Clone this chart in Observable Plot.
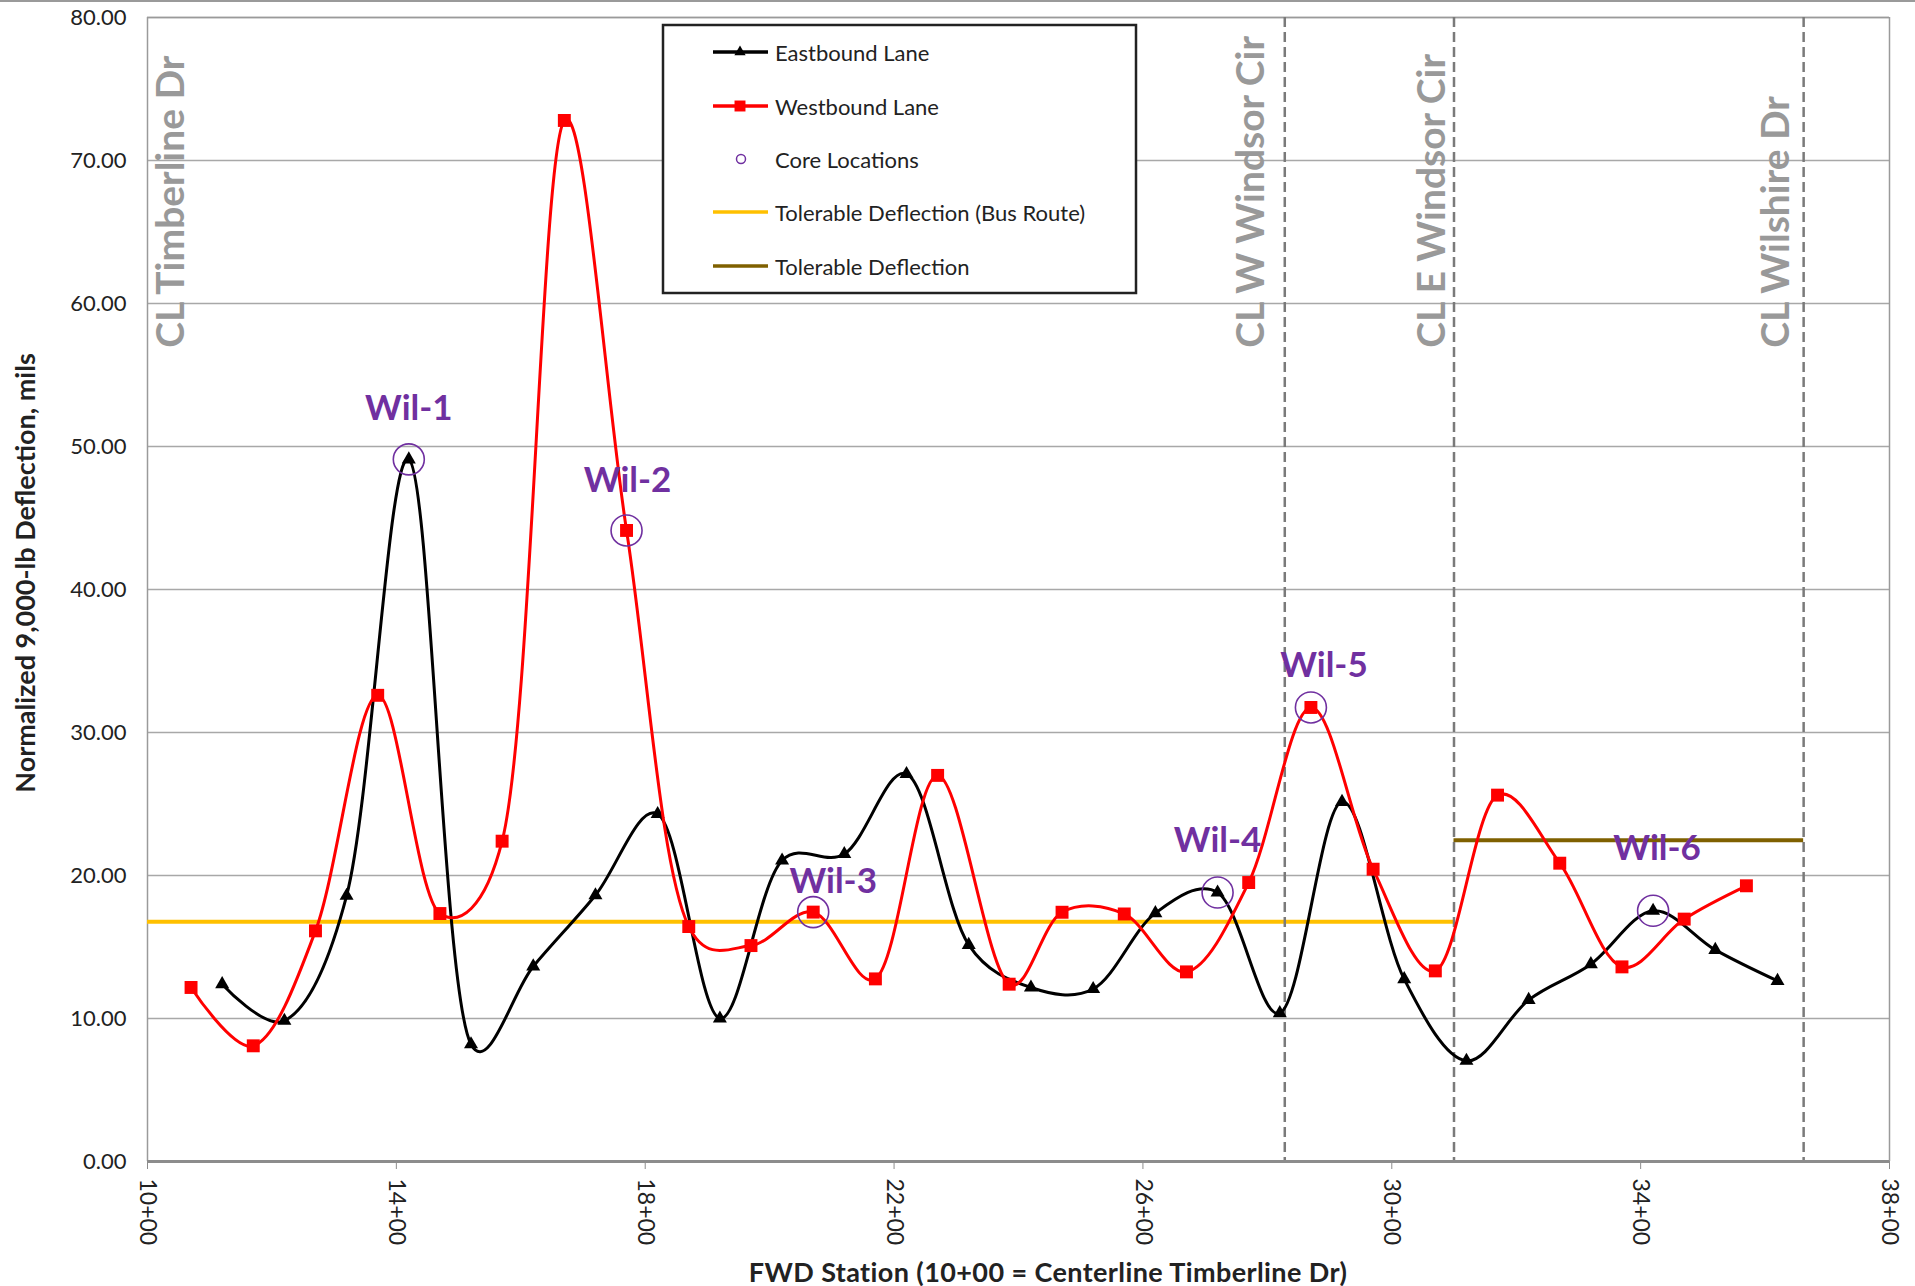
<!DOCTYPE html>
<html><head><meta charset="utf-8">
<script src="https://cdn.jsdelivr.net/npm/d3@7"></script>
<script src="https://cdn.jsdelivr.net/npm/@observablehq/plot@0.6"></script>
<style>
body{margin:0;background:#fff;}
#chart{position:relative;width:1915px;height:1286px;overflow:hidden;}
</style></head><body><div id="chart"></div>
<script>
// ---- Data ----
const eastStations = [11.2,12.2,13.2,14.2,15.2,16.2,17.2,18.2,19.2,20.2,21.2,22.2,23.2,24.2,25.2,26.2,27.2,28.2,29.2,30.2,31.2,32.2,33.2,34.2,35.2,36.2];
const eastValues   = [12.4,9.84,18.58,49.1,8.2,13.64,18.62,24.3,10.0,21.05,21.5,27.1,15.15,12.17,12.06,17.37,18.81,10.37,25.15,12.75,7.04,11.3,13.8,17.53,14.8,12.63];
const westStations = [10.7,11.7,12.7,13.7,14.7,15.7,16.7,17.7,18.7,19.7,20.7,21.7,22.7,23.85,24.7,25.7,26.7,27.7,28.7,29.7,30.7,31.7,32.7,33.7,34.7,35.7];
const westValues   = [12.17,8.09,16.13,32.6,17.34,22.4,72.8,44.13,16.43,15.1,17.44,12.77,27.0,12.4,17.43,17.31,13.26,19.51,31.75,20.44,13.33,25.62,20.86,13.61,16.95,19.28];
const coreIds      = ["Wil-1","Wil-2","Wil-3","Wil-4","Wil-5","Wil-6"];
const coreStations = [14.2,17.7,20.7,27.2,28.7,34.2];
const coreValues   = [49.1,44.13,17.44,18.81,31.75,17.53];
const streetNames    = ["CL Timberline Dr","CL W Windsor Cir","CL E Windsor Cir","CL Wilshire Dr"];
const streetStations = [10,28.28,31.0,36.62];
const busRouteLimit = 16.76, busRouteFrom = 10, busRouteTo = 31.0;
const tolerableLimit = 22.47, tolerableFrom = 31.0, tolerableTo = 36.62;
const xTicks = [10,14,18,22,26,30,34,38];
const yTicks = [0,10,20,30,40,50,60,70,80];
const legendLabels = ["Eastbound Lane","Westbound Lane","Core Locations","Tolerable Deflection (Bus Route)","Tolerable Deflection"];

// ---- Layout / style ----
const FONT = "Lato, 'Open Sans', 'DejaVu Sans', sans-serif";
const PURPLE = "#7030A0", RED = "#FF0000", GOLD = "#FFC000", BROWN = "#7F6000";
const coreLabelDx = [0,1,20,0,13,4];
const coreLabelDy = [-51,-50,-30,-52,-42,-62];
const streetLabelDx = [36,-21,-9,-15];
const streetLabelY = 56.9;
const smooth = d3.curveCatmullRom.alpha(0.25);

const east = eastStations.map((x,i)=>({x, y:eastValues[i]}));
const west = westStations.map((x,i)=>({x, y:westValues[i]}));
const cores = coreIds.map((id,i)=>({id, x:coreStations[i], y:coreValues[i]}));
const streets = streetNames.map((name,i)=>({name, x:streetStations[i]}));

const chart = Plot.plot({
  width:1915, height:1286,
  marginLeft:147, marginRight:26, marginTop:17, marginBottom:125,
  style:{fontFamily:FONT, background:"#fff", color:"#222", overflow:"visible"},
  x:{domain:[10,38]},
  y:{domain:[0,80]},
  marks:[
    Plot.gridY(yTicks, {stroke:"#a8a8a8", strokeOpacity:1, strokeWidth:1.5}),
    Plot.ruleX([10,38], {stroke:"#9a9a9a", strokeWidth:1.5}),
    Plot.ruleY([80], {stroke:"#9a9a9a", strokeWidth:1.5}),
    Plot.axisY(yTicks, {tickFormat:d=>d.toFixed(2), tickSize:0, tickPadding:21, fontSize:22, label:null, fill:"#222"}),
    Plot.axisX(xTicks, {tickFormat:d=>`${d}+00`, tickRotate:90, tickSize:8, tickPadding:9, fontSize:23, label:null, stroke:"#8c8c8c", fill:"#222"}),
    // tolerable deflection lines
    Plot.ruleY([{y:busRouteLimit, x1:busRouteFrom, x2:busRouteTo}], {y:"y", x1:"x1", x2:"x2", stroke:GOLD, strokeWidth:4}),
    Plot.ruleY([{y:tolerableLimit, x1:tolerableFrom, x2:tolerableTo}], {y:"y", x1:"x1", x2:"x2", stroke:BROWN, strokeWidth:4}),
    // street centerlines
    Plot.ruleX(streets.slice(1), {x:"x", stroke:"#7a7a7a", strokeWidth:2.5, strokeDasharray:"10,5"}),
    ...streets.map((s,i)=>Plot.text([s], {x:"x", y:()=>streetLabelY, text:"name", rotate:-90,
      textAnchor:"start", lineAnchor:"bottom", dx:streetLabelDx[i], fontSize:39, fontWeight:"bold", fill:"#999999"})),
    // x axis baseline
    Plot.ruleY([0], {stroke:"#8c8c8c", strokeWidth:3}),
    // series
    Plot.line(east, {x:"x", y:"y", stroke:"#000", strokeWidth:3, curve:smooth}),
    Plot.dot(east, {x:"x", y:"y", symbol:"triangle", r:5.2, fill:"#000", stroke:"none"}),
    Plot.line(west, {x:"x", y:"y", stroke:RED, strokeWidth:3, curve:smooth}),
    Plot.dot(west, {x:"x", y:"y", symbol:"square", r:7.3, fill:RED, stroke:"none"}),
    // core locations
    Plot.dot(cores, {x:"x", y:"y", r:15.5, stroke:PURPLE, strokeWidth:1.6, fill:"none"}),
    ...cores.map((c,i)=>Plot.text([c], {x:"x", y:"y", text:"id", dx:coreLabelDx[i], dy:coreLabelDy[i],
      lineAnchor:"middle", fontSize:35, fontWeight:"bold", fill:PURPLE}))
  ]
});
document.getElementById("chart").appendChild(chart);

// ---- Titles, legend, border ----
const svg = d3.select(chart);
svg.append("line").attr("x1",0).attr("x2",1915).attr("y1",1).attr("y2",1).attr("stroke","#9a9a9a").attr("stroke-width",2);
svg.append("text").attr("transform","translate(24,573) rotate(-90)")
  .attr("text-anchor","middle").attr("dominant-baseline","central")
  .style("font-family",FONT).style("font-size","27px").style("font-weight","bold").attr("fill","#222")
  .text("Normalized 9,000-lb Deflection, mils");
svg.append("text").attr("x",1048).attr("y",1271)
  .attr("text-anchor","middle").attr("dominant-baseline","central")
  .style("font-family",FONT).style("font-size","27px").style("font-weight","bold").style("letter-spacing","0.4px").attr("fill","#222")
  .text("FWD Station (10+00 = Centerline Timberline Dr)");

const lg = svg.append("g");
lg.append("rect").attr("x",663).attr("y",25).attr("width",473).attr("height",268)
  .attr("fill","#fff").attr("stroke","#222").attr("stroke-width",2.5);
const rows = [52,106,159,212,266];
const sym = (type, size) => d3.symbol(type, size)();
rows.forEach((yy,i)=>{
  const g = lg.append("g");
  if (i!==2) {
    const col = [ "#000", RED, null, GOLD, BROWN ][i];
    g.append("line").attr("x1",713).attr("x2",768).attr("y1",yy).attr("y2",yy).attr("stroke",col).attr("stroke-width",3.5);
  }
  if (i===0) g.append("path").attr("d",sym(d3.symbolTriangle, Math.PI*4.2*4.2)).attr("transform",`translate(740,${yy})`).attr("fill","#000");
  if (i===1) g.append("path").attr("d",sym(d3.symbolSquare, 120)).attr("transform",`translate(740,${yy})`).attr("fill",RED);
  if (i===2) g.append("circle").attr("cx",741).attr("cy",yy).attr("r",4.5).attr("fill","none").attr("stroke",PURPLE).attr("stroke-width",1.5);
  g.append("text").attr("x",775).attr("y",yy).attr("dominant-baseline","central").attr("text-anchor","start")
    .style("font-family",FONT).style("font-size","22px").attr("fill","#222").text(legendLabels[i]);
});
</script>
</body></html>
